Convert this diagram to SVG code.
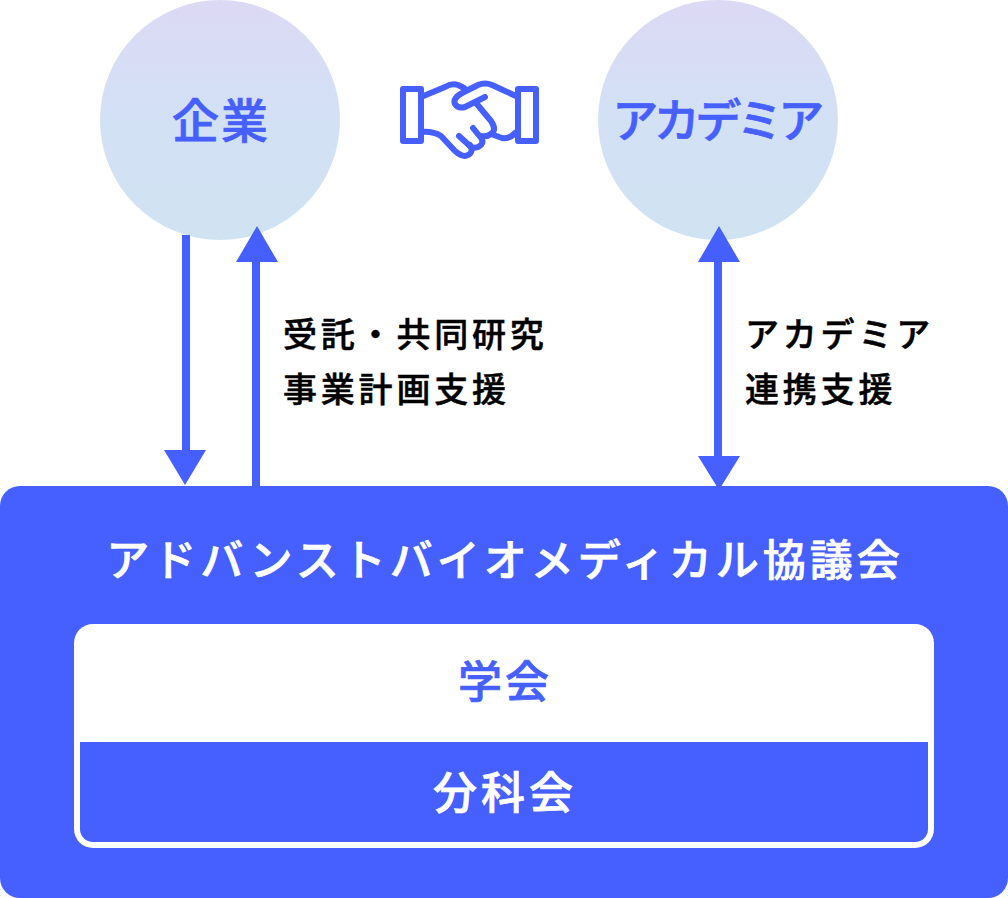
<svg xmlns="http://www.w3.org/2000/svg" width="1008" height="898" viewBox="0 0 1008 898">
<style>
text{font-family:"Noto Sans CJK JP","Noto Sans",sans-serif;text-anchor:middle;font-weight:500}
.b{fill:#465fff}
.w{fill:#fff}
.sb{stroke:#465fff;stroke-width:.7}
.sw{stroke:#fff;stroke-width:.7}
.c{font-size:47px;letter-spacing:2px}
.l{font-size:34px;letter-spacing:3.8px;fill:#000;stroke:#000;stroke-width:.5;text-anchor:start}
.h{fill:none;stroke:#465fff;stroke-width:6;stroke-linecap:round;stroke-linejoin:round}
</style>
<defs>
<linearGradient id="g" x1="0" y1="0" x2="0" y2="1"><stop offset="0" stop-color="#dcd9f4"/><stop offset=".45" stop-color="#d3e0f5"/><stop offset="1" stop-color="#d0e3f2"/></linearGradient>
</defs>
<g id="kigyo"><circle cx="220" cy="120" r="120" fill="url(#g)"/><text class="c b sb" x="221" y="138">企業</text></g>
<g id="academia"><circle cx="718" cy="120" r="120" fill="url(#g)"/><text class="c b sb" x="716" y="137" style="font-size:46px;letter-spacing:-4.5px">アカデミア</text></g>
<g id="handshake">
<rect class="h" x="403" y="89" width="18" height="52"/>
<rect class="h" x="518" y="89" width="18" height="52"/>
<path class="h" d="M421 97L445 87Q452 83 458 85L464 88"/>
<path class="h" d="M518 97L492 85Q485 82 478 85L464 92Q452 98 455 104Q458 109 465 107L485 97"/>
<path class="h" d="M476 103L491 121Q497 130 491 134Q487 137 481 136"/>
<path class="h" d="M421 132Q433 131 441 136L455 151Q463 158 468 155Q474 152 470 145"/>
<path class="h" d="M459 136L471 147Q477 149 481 145Q484 141 481 138L473 128"/>
<path class="h" d="M491 134L502 138Q510 139 515 133L518 131"/>
</g>
<g id="connectors" class="b">
<path d="M182 235h8v215h16l-21 35-21-35h18z"/>
<path d="M252 486V262h-16l21-36 21 36h-18v224z"/>
<path d="M714 262h-16l21-36 21 36h-18v194h18l-21 34-21-34h16z"/>
</g>
<g id="label-left"><text class="l" x="283" y="347">受託・共同研究</text><text class="l" x="283" y="402">事業計画支援</text></g>
<g id="label-right"><text class="l" x="745" y="347">アカデミア</text><text class="l" x="745" y="402">連携支援</text></g>
<g id="council">
<rect class="b" x="0" y="486" width="1008" height="412" rx="20"/>
<text class="w sw" x="505" y="576" font-size="43" letter-spacing="4">アドバンストバイオメディカル協議会</text>
</g>
<g id="gakkai">
<rect class="w" x="74" y="624" width="860" height="224" rx="19"/>
<text class="b sb" x="505" y="698" font-size="44" letter-spacing="3">学会</text>
</g>
<g id="bunkakai">
<path class="b" d="M80 742H928V829a13 13 0 0 1-13 13H93a13 13 0 0 1-13-13z"/>
<text class="w sw" x="505" y="809" font-size="44" letter-spacing="4">分科会</text>
</g>
</svg>
